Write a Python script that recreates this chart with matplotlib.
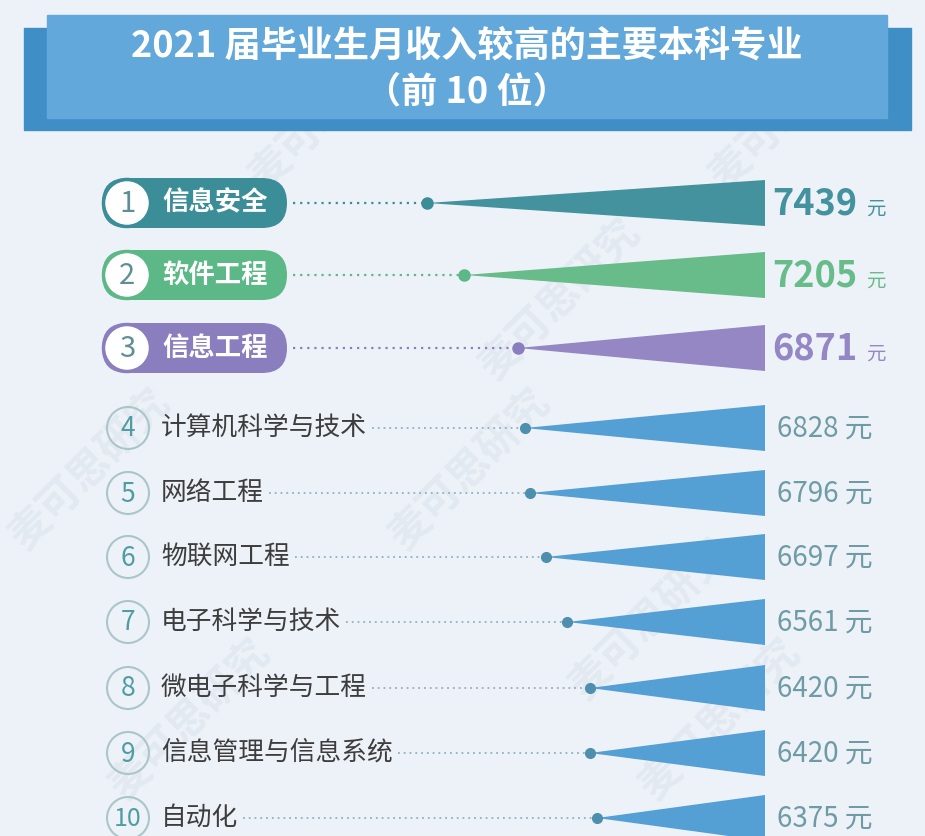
import matplotlib
matplotlib.use("Agg")
import matplotlib.pyplot as plt
from matplotlib.patches import Rectangle, Circle, FancyBboxPatch, Polygon

plt.rcParams['font.family'] = ['Noto Sans CJK SC', 'DejaVu Sans']

# data
title_1 = "2021 届毕业生月收入较高的主要本科专业"
title_2 = "（前 10 位）"
ranks = ["1", "2", "3", "4", "5", "6", "7", "8", "9", "10"]
majors = ["信息安全", "软件工程", "信息工程", "计算机科学与技术", "网络工程",
          "物联网工程", "电子科学与技术", "微电子科学与工程", "信息管理与信息系统", "自动化"]
income = [7439, 7205, 6871, 6828, 6796, 6697, 6561, 6420, 6420, 6375]
unit = "元"

# styling
bg = "#edf2f9"
top_colors = ["#3b8d98", "#5cb886", "#8a7ebf"]
wedge_top = ["#43929d", "#67bc8a", "#9487c4"]
wedge_blue = "#549fd4"
dot_blue = "#4f8fae"
value_gray = "#6f9ba5"
row_y = [203, 275, 348, 428, 493, 557, 622, 688, 753, 818]

fig = plt.figure(figsize=(9.25, 8.36), dpi=100, facecolor=bg)
ax = fig.add_axes([0, 0, 1, 1])
ax.set_xlim(0, 925)
ax.set_ylim(836, 0)
ax.axis('off')
ax.set_facecolor(bg)

# value axis for the wedges (reversed: bigger value -> tip further left)
wx = fig.add_axes([300 / 925, 0, 465 / 925, 1])
wx.set_xlim(8234, 5324)
wx.set_ylim(836, 0)
wx.axis('off')
wx.patch.set_alpha(0)
base = wx.get_xlim()[1]

# watermarks
for (wxp, wyp) in [(330, 110), (790, 110), (560, 300), (90, 470), (470, 470),
                   (650, 620), (190, 720), (720, 720)]:
    ax.text(wxp, wyp, "麦可思研究", fontsize=30, fontweight='bold', color="#9aa7b5",
            alpha=0.12, rotation=45, ha='center', va='center', zorder=1)

# banner
ax.add_patch(Rectangle((24, 28), 887, 102, color="#3f8ec6", zorder=2))
ax.add_patch(Rectangle((47, 15), 840, 103, color="#62a8da", zorder=3))
ax.text(467, 46, title_1, fontsize=26, fontweight='bold', color='white',
        ha='center', va='center', zorder=4)
ax.text(467, 92, title_2, fontsize=26, fontweight='bold', color='white',
        ha='center', va='center', zorder=4)

labels = []
for i, (r, m, v, y) in enumerate(zip(ranks, majors, income, row_y)):
    if i < 3:
        c = top_colors[i]
        ax.add_patch(FancyBboxPatch((102, y - 25), 185, 50,
                                    boxstyle="round,pad=0,rounding_size=25",
                                    fc=c, ec='none', zorder=3))
        ax.add_patch(Circle((127, y), 23.5, fc='white', ec=c, lw=2.5, zorder=4))
        ax.text(127, y + 1, r, fontsize=21, fontweight='light', color="#5f8f95",
                ha='center', va='center', zorder=5)
        t = ax.text(162, y, m, fontsize=19, fontweight='bold', color='white',
                    ha='left', va='center', zorder=5)
        wc, dc = wedge_top[i], c
    else:
        ax.add_patch(Circle((128, y), 21, fc='none', ec="#aac6c8", lw=1.5, zorder=4))
        ax.text(128, y + 1, r, fontsize=19 if len(r) == 1 else 18, fontweight='light',
                color="#4f9da3", ha='center', va='center', zorder=5)
        t = ax.text(161, y, m, fontsize=18.5, color="#3d3d3d",
                    ha='left', va='center', zorder=5)
        wc, dc = wedge_blue, dot_blue
    labels.append(t)

    # wedge from the value to the baseline
    wx.add_patch(Polygon([(v, y), (base, y - 23), (base, y + 23)], closed=True,
                         fc=wc, ec='none', zorder=3))
    wx.plot([v], [y], 'o', ms=8 if i < 3 else 7, color=dc, zorder=4, clip_on=False)

    if i < 3:
        ax.text(772, y + 1, f"{v}", fontsize=26, fontweight='bold', color=wc,
                ha='left', va='center', zorder=5)
        ax.text(866, y + 6, unit, fontsize=14, color=wc, ha='left', va='center', zorder=5)
    else:
        ax.text(777, y + 1, f"{v} {unit}", fontsize=20, color=value_gray,
                ha='left', va='center', zorder=5)

# dotted leaders from the label end to the dot
fig.canvas.draw()
renderer = fig.canvas.get_renderer()
for i, (t, v, y) in enumerate(zip(labels, income, row_y)):
    bb = t.get_window_extent(renderer)
    end_px = bb.x1 + (8 if i < 3 else 5)
    if i < 3:
        end_px = max(end_px, 293)
    x_start = wx.transData.inverted().transform((end_px, 0))[0]
    col = top_colors[i] if i < 3 else "#8fb0bf"
    wx.plot([x_start, v], [y, y], linestyle=(0, (1, 2.2)), lw=1.6 if i < 3 else 1.3,
            color=col, zorder=2, clip_on=False)

fig.savefig("out.png", dpi=100, facecolor=bg)
